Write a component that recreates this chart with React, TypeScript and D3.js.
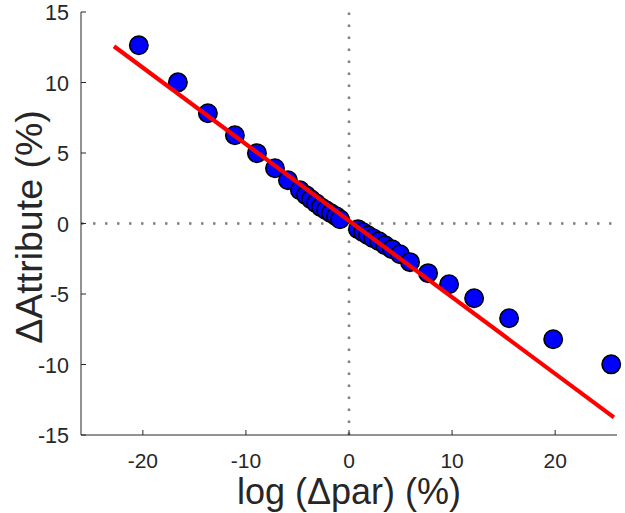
import React from "react";
import * as d3 from "d3";

const pointX = [-20.39, -16.6, -13.69, -11.07, -8.93, -7.18, -5.92, -4.76, -4.17, -3.69, -3.2, -2.72, -2.23, -1.75, -1.26, -0.87,
  0.87, 1.36, 1.84, 2.33, 2.91, 3.5, 4.17, 4.95, 5.92, 7.67, 9.71, 12.14, 15.53, 19.81, 25.44];
const pointY = [12.64, 10.01, 7.82, 6.26, 4.99, 3.92, 3.07, 2.36, 2.01, 1.72, 1.44, 1.16, 0.94, 0.73, 0.52, 0.3,
  -0.4, -0.62, -0.83, -1.04, -1.26, -1.54, -1.82, -2.18, -2.74, -3.52, -4.31, -5.3, -6.72, -8.21, -9.99];
const fitX = [-22.8, 25.7];
const fitY = [12.57, -13.75];
const xTicks = [-20, -10, 0, 10, 20];
const yTicks = [-15, -10, -5, 0, 5, 10, 15];
const xDomain = [-26, 26];
const yDomain = [-15, 15];
const xLabel = "log (Δpar) (%)";
const yLabel = "ΔAttribute (%)";

export default function App() {
  const W = 625, H = 513;
  const x = d3.scaleLinear().domain(xDomain).range([81, 617]);
  const y = d3.scaleLinear().domain(yDomain).range([435, 12]);
  const axisColor = "#262626";
  const font = "'Liberation Sans', Arial, Helvetica, sans-serif";
  const line = d3.line<number>().x((d, i) => x(fitX[i])).y((d, i) => y(fitY[i]));
  return (
    <svg width={W} height={H} style={{ position: "fixed", left: 0, top: 0, background: "#fff" }} fontFamily={font}>
      <rect x={0} y={0} width={W} height={H} fill="#fff" />
      {/* zero reference lines */}
      <line x1={x(xDomain[0])} x2={x(xDomain[1])} y1={y(0)} y2={y(0)} stroke="#808080" strokeWidth={2.5} strokeDasharray="2.5 9.5" />
      <line x1={x(0)} x2={x(0)} y1={y(yDomain[0])} y2={y(yDomain[1])} stroke="#808080" strokeWidth={2.5} strokeDasharray="2.5 9.5" />
      {/* points */}
      {pointX.map((px, i) => (
        <circle key={i} cx={x(px)} cy={y(pointY[i])} r={9.2} fill="#0000ff" stroke="#000" strokeWidth={1.6} />
      ))}
      {/* fit line */}
      <path d={line(fitX) || ""} stroke="#ff0000" strokeWidth={4.2} fill="none" />
      {/* axes */}
      <line x1={x(xDomain[0])} x2={x(xDomain[1])} y1={y(yDomain[0])} y2={y(yDomain[0])} stroke={axisColor} strokeWidth={1} />
      <line x1={x(xDomain[0])} x2={x(xDomain[0])} y1={y(yDomain[0])} y2={y(yDomain[1])} stroke={axisColor} strokeWidth={1} />
      {xTicks.map((t) => (
        <g key={"x" + t}>
          <line x1={x(t)} x2={x(t)} y1={y(yDomain[0])} y2={y(yDomain[0]) - 5} stroke={axisColor} />
          <text x={x(t)} y={y(yDomain[0]) + 33} textAnchor="middle" fontSize={21} fill={axisColor}>{t}</text>
        </g>
      ))}
      {yTicks.map((t) => (
        <g key={"y" + t}>
          <line x1={x(xDomain[0])} x2={x(xDomain[0]) + 5} y1={y(t)} y2={y(t)} stroke={axisColor} />
          <text x={x(xDomain[0]) - 12} y={y(t) + 8} textAnchor="end" fontSize={21.5} fill={axisColor}>{t}</text>
        </g>
      ))}
      <text x={x(0)} y={504} textAnchor="middle" fontSize={36} fill={axisColor}>{xLabel}</text>
      <text transform={`translate(42, 227) rotate(-90)`} textAnchor="middle" fontSize={37.5} fill={axisColor}>{yLabel}</text>
    </svg>
  );
}
